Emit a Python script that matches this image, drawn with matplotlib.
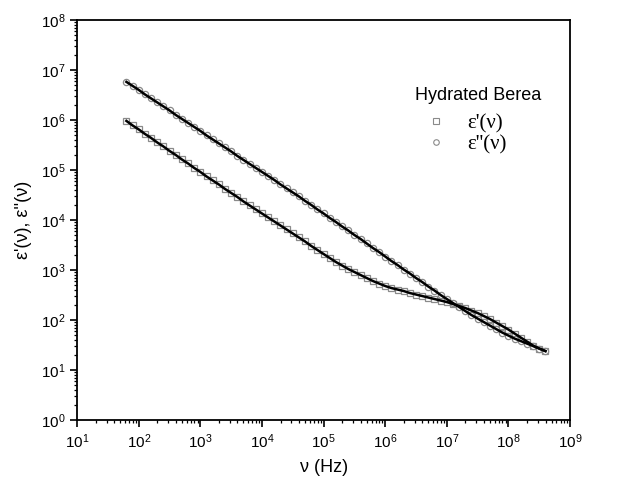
import numpy as np
import matplotlib.pyplot as plt
from matplotlib.lines import Line2D

# log10 of frequency (Hz)
freq_log10 = [1.8, 1.9, 2.0, 2.1, 2.2, 2.3, 2.4, 2.5, 2.6, 2.7,
              2.8, 2.9, 3.0, 3.1, 3.2, 3.3, 3.4, 3.5, 3.6, 3.7,
              3.8, 3.9, 4.0, 4.1, 4.2, 4.3, 4.4, 4.5, 4.6, 4.7,
              4.8, 4.9, 5.0, 5.1, 5.2, 5.3, 5.4, 5.5, 5.6, 5.7,
              5.8, 5.9, 6.0, 6.1, 6.2, 6.3, 6.4, 6.5, 6.6, 6.7,
              6.8, 6.9, 7.0, 7.1, 7.2, 7.3, 7.4, 7.5, 7.6, 7.7,
              7.8, 7.9, 8.0, 8.1, 8.2, 8.3, 8.4, 8.5, 8.6]

# log10 of eps' (real part)
eps1_log10 = [5.98, 5.89, 5.81, 5.72, 5.64, 5.55, 5.47, 5.38, 5.30, 5.21,
              5.13, 5.04, 4.96, 4.87, 4.79, 4.71, 4.62, 4.54, 4.46, 4.37,
              4.29, 4.21, 4.13, 4.05, 3.97, 3.89, 3.81, 3.73, 3.65, 3.57,
              3.48, 3.40, 3.32, 3.24, 3.16, 3.09, 3.02, 2.96, 2.90, 2.84,
              2.78, 2.73, 2.68, 2.64, 2.61, 2.58, 2.54, 2.51, 2.48, 2.45,
              2.42, 2.39, 2.36, 2.32, 2.28, 2.24, 2.19, 2.14, 2.08, 2.02,
              1.95, 1.88, 1.81, 1.73, 1.65, 1.57, 1.49, 1.43, 1.38]

# log10 of eps'' (imaginary part)
eps2_log10 = [6.76, 6.68, 6.60, 6.51, 6.43, 6.35, 6.27, 6.19, 6.10, 6.02,
              5.94, 5.86, 5.78, 5.69, 5.61, 5.53, 5.45, 5.37, 5.28, 5.20,
              5.12, 5.04, 4.96, 4.88, 4.80, 4.71, 4.63, 4.55, 4.47, 4.38,
              4.30, 4.21, 4.13, 4.04, 3.96, 3.87, 3.79, 3.70, 3.62, 3.53,
              3.44, 3.36, 3.27, 3.18, 3.10, 3.01, 2.93, 2.84, 2.76, 2.67,
              2.59, 2.50, 2.42, 2.34, 2.26, 2.18, 2.10, 2.03, 1.96, 1.89,
              1.82, 1.75, 1.69, 1.63, 1.58, 1.53, 1.48, 1.43, 1.38]

freq = 10 ** np.array(freq_log10)
eps1 = 10 ** np.array(eps1_log10)
eps2 = 10 ** np.array(eps2_log10)

plt.rcParams['font.family'] = ['Liberation Sans', 'DejaVu Sans']

fig = plt.figure(figsize=(6.32, 4.84), dpi=100)
ax = fig.add_axes([0.122, 0.132, 0.780, 0.827])

# measured points (open gray markers) and fit (black line)
ax.plot(freq, eps1, ls='none', marker='s', ms=4.5, mfc='white', mec='#8a8a8a', mew=0.9)
ax.plot(freq, eps2, ls='none', marker='o', ms=4.5, mfc='white', mec='#8a8a8a', mew=0.9)
ax.plot(freq, eps1, color='black', lw=1.8)
ax.plot(freq, eps2, color='black', lw=1.8)

ax.set_xscale('log')
ax.set_yscale('log')
ax.set_xlim(1e1, 1e9)
ax.set_ylim(1e0, 1e8)
ax.set_xticks([10.0 ** k for k in range(1, 10)])
ax.set_yticks([10.0 ** k for k in range(0, 9)])

ax.tick_params(which='both', direction='out', top=False, right=False, labelsize=11, width=1.2)
ax.tick_params(which='major', length=5)
ax.tick_params(which='minor', length=2.5, width=0.9)
for s in ax.spines.values():
    s.set_linewidth(1.3)

ax.set_xlabel('ν (Hz)', fontsize=13, labelpad=6)
ax.set_ylabel("ε'(ν), ε''(ν)", fontsize=13, labelpad=6)

handles = [Line2D([], [], ls='none', marker='s', ms=4, mfc='white', mec='#8a8a8a', mew=0.8),
           Line2D([], [], ls='none', marker='o', ms=4, mfc='white', mec='#8a8a8a', mew=0.8)]
leg = ax.legend(handles, ["ε'(ν)", "ε''(ν)"], title='Hydrated Berea', loc='upper left',
                bbox_to_anchor=(0.648, 0.878), frameon=False, handletextpad=0.5,
                prop={'family': ['Liberation Serif', 'DejaVu Serif'], 'size': 15},
                title_fontsize=13, labelspacing=0.05)
leg._legend_box.align = 'left'
leg._legend_box.sep = 7

fig.savefig('out.png', dpi=100)
